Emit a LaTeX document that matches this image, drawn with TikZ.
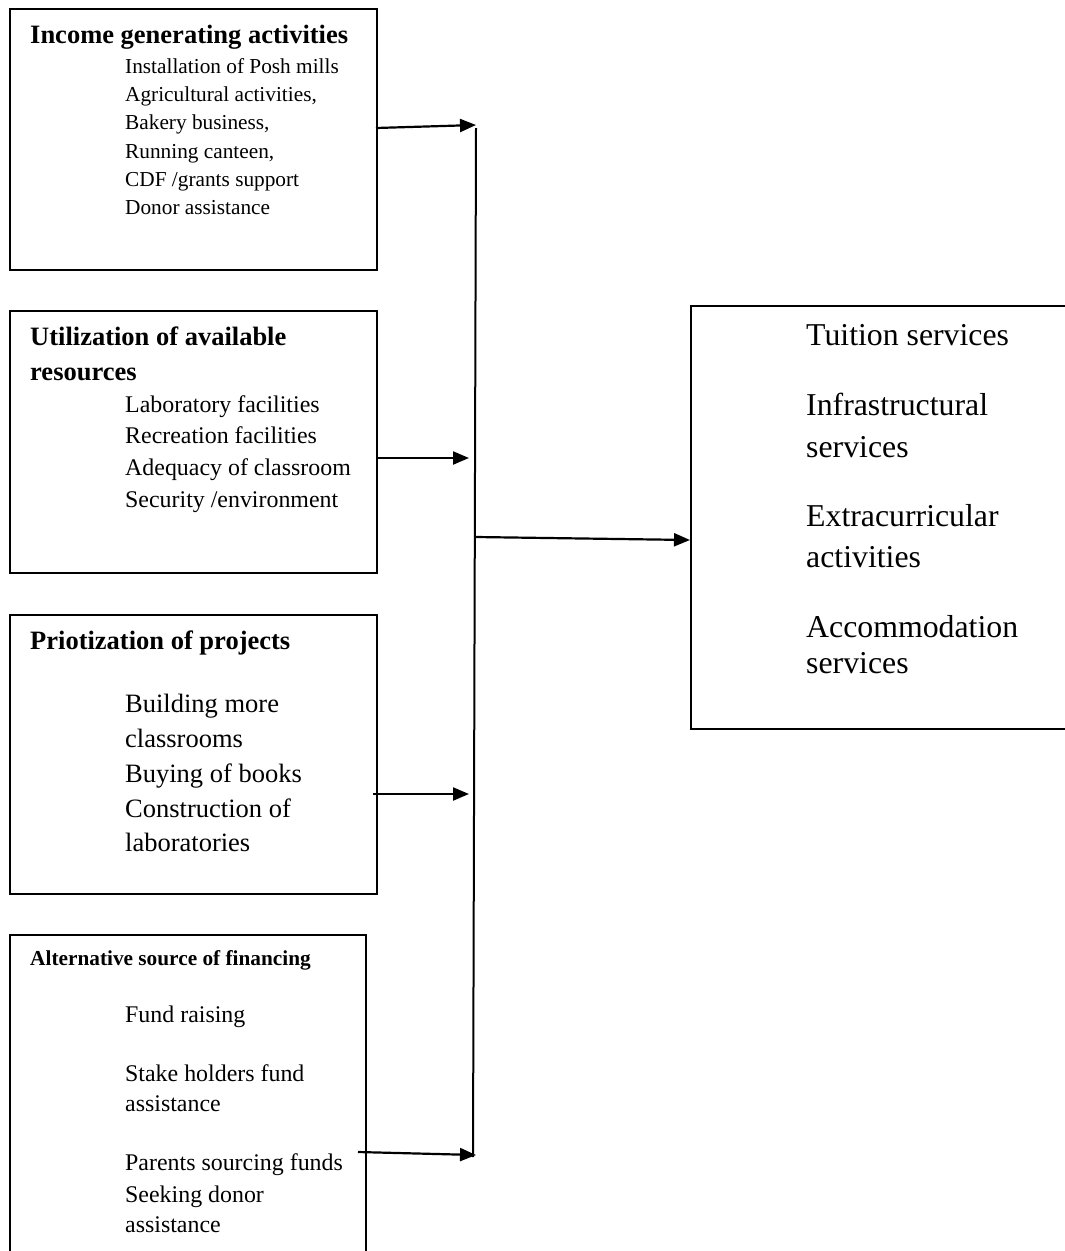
\documentclass[tikz,border=0pt]{standalone}
\usepackage{fontspec}
\setmainfont{Liberation Serif}
\usetikzlibrary{arrows.meta}
\begin{document}
\begin{tikzpicture}[x=1pt,y=-1pt,
  box/.style={draw=black, line width=1.8pt, rectangle, anchor=north west, inner sep=0pt},
  arr/.style={line width=2.2pt, -{Triangle[length=16pt,width=13pt]}},
  bus/.style={line width=2pt},
  ttl/.style={anchor=base west, inner sep=0pt, font=\bfseries\fontsize{26.5}{30}\selectfont},
  ttls/.style={anchor=base west, inner sep=0pt, font=\bfseries\fontsize{21.3}{25}\selectfont},
  itma/.style={anchor=base west, inner sep=0pt, font=\fontsize{21.3}{26}\selectfont},
  itmb/.style={anchor=base west, inner sep=0pt, font=\fontsize{23.9}{28}\selectfont},
  itmc/.style={anchor=base west, inner sep=0pt, font=\fontsize{26.5}{30}\selectfont},
  itmd/.style={anchor=base west, inner sep=0pt, font=\fontsize{31.8}{36}\selectfont}]
\useasboundingbox (0,0) rectangle (1065,1251);

% boxes
\node[box, minimum width=367pt, minimum height=261pt] (b1) at (9,8) {};
\node[box, minimum width=367pt, minimum height=262pt] (b2) at (9,310) {};
\node[box, minimum width=367pt, minimum height=279pt] (b3) at (9,614) {};
\node[box, minimum width=356pt, minimum height=340pt] (b4) at (9,934) {};
\node[box, minimum width=400pt, minimum height=423pt] (rb) at (690,305) {};

% box 1
\node[ttl] (t1) at (30,43) {Income generating activities};
\node[itma] (t1a) at (125,73) {Installation of Posh mills};
\node[itma] (t1b) at (125,101) {Agricultural activities,};
\node[itma] (t1c) at (125,129) {Bakery business,};
\node[itma] (t1d) at (125,158) {Running canteen,};
\node[itma] (t1e) at (125,186) {CDF /grants support};
\node[itma] (t1f) at (125,214) {Donor assistance};

% box 2
\node[ttl] (t2) at (30,345) {Utilization of available};
\node[ttl] (t2r) at (30,380) {resources};
\node[itmb] (t2a) at (125,412) {Laboratory facilities};
\node[itmb] (t2b) at (125,443) {Recreation facilities};
\node[itmb] (t2c) at (125,475) {Adequacy of classroom};
\node[itmb] (t2d) at (125,507) {Security /environment};

% box 3
\node[ttl] (t3) at (30,649) {Priotization of projects};
\node[itmc] (t3a) at (125,712) {Building more};
\node[itmc] (t3b) at (125,747) {classrooms};
\node[itmc] (t3c) at (125,782) {Buying of books};
\node[itmc] (t3d) at (125,817) {Construction of};
\node[itmc] (t3e) at (125,851) {laboratories};

% box 4
\node[ttls] (t4) at (30,965) {Alternative source of financing};
\node[itmb] (t4a) at (125,1022) {Fund raising};
\node[itmb] (t4b) at (125,1081) {Stake holders fund};
\node[itmb] (t4c) at (125,1111) {assistance};
\node[itmb] (t4d) at (125,1170) {Parents sourcing funds};
\node[itmb] (t4e) at (125,1202) {Seeking donor};
\node[itmb] (t4f) at (125,1232) {assistance};

% right box
\node[itmd] (r1) at (806,345) {Tuition services};
\node[itmd] (r2) at (806,415) {Infrastructural};
\node[itmd] (r3) at (806,457) {services};
\node[itmd] (r4) at (806,526) {Extracurricular};
\node[itmd] (r5) at (806,567) {activities};
\node[itmd] (r6) at (806,637) {Accommodation};
\node[itmd] (r7) at (806,673) {services};

% connectors
\coordinate (a1s) at (376,128); \coordinate (a1e) at (476,125);
\coordinate (a2s) at (376,458); \coordinate (a2e) at (469,458);
\coordinate (a3s) at (373,794); \coordinate (a3e) at (469,794);
\coordinate (a4s) at (358,1152); \coordinate (a4e) at (476,1155);
\coordinate (bt) at (476,128); \coordinate (bb) at (473,1157);
\coordinate (bm) at (476,537); \coordinate (rin) at (690,540);

\draw[bus] (bt) -- (bb);
\draw[arr] (a1s) -- (a1e);
\draw[arr] (a2s) -- (a2e);
\draw[arr] (a3s) -- (a3e);
\draw[arr] (a4s) -- (a4e);
\draw[arr] (bm) -- (rin);
\end{tikzpicture}
\end{document}
